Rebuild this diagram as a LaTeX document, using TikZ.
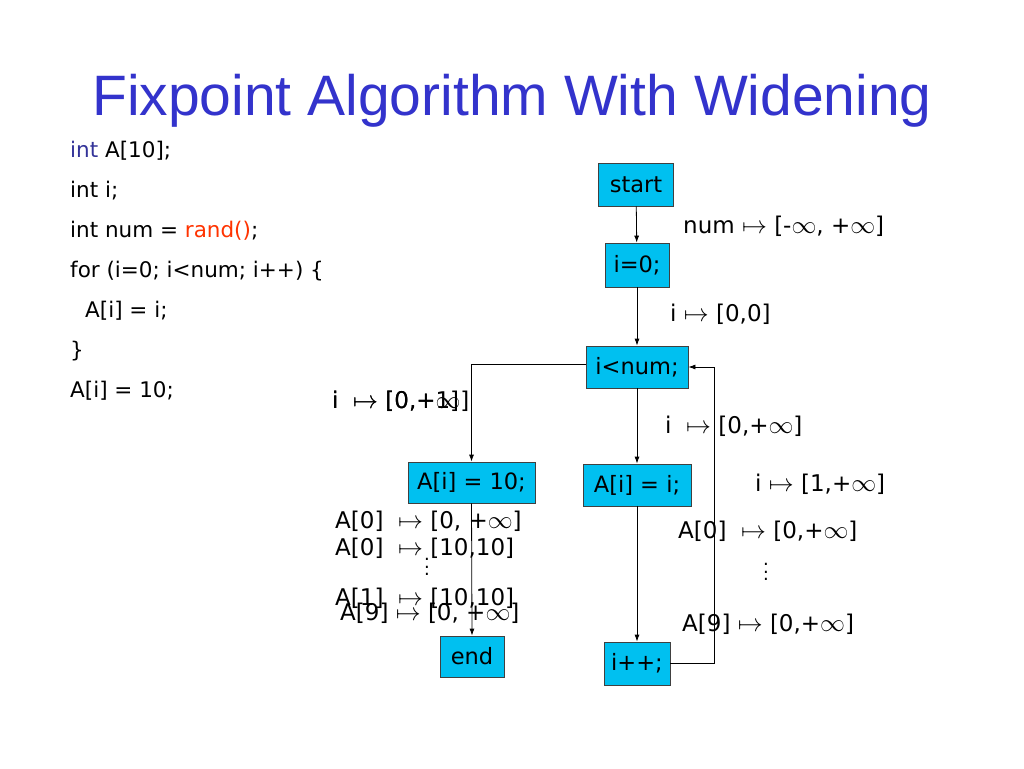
\documentclass[tikz,border=0pt]{standalone}
\usepackage{fontspec}
\setmainfont{Liberation Sans}
\newfontfamily\lblfont{DejaVu Sans}
\usetikzlibrary{arrows.meta}
\definecolor{boxcyan}{RGB}{0,192,240}
\definecolor{titleblue}{RGB}{51,51,204}
\definecolor{kwblue}{RGB}{51,51,153}
\definecolor{fnred}{RGB}{255,51,0}
\tikzset{
  blk/.style={draw=black!75, line width=0.8pt, fill=boxcyan, inner sep=0pt, font=\lblfont\fontsize{22.5}{24}\selectfont},
  lbl/.style={inner sep=0pt, anchor=west, font=\lblfont\fontsize{23}{25}\selectfont},
  dots/.style={inner sep=0pt, align=center, font=\lblfont\fontsize{18}{7.5}\selectfont},
  code/.style={inner sep=0pt, anchor=base west, font=\lblfont\fontsize{21.5}{24}\selectfont},
  flow/.style={line width=0.8pt, -{Latex[length=7pt,width=5pt]}},
  plain/.style={line width=0.8pt}
}
\begin{document}
\begin{tikzpicture}[x=1pt,y=-1pt]
\useasboundingbox (0,0) rectangle (1024,768);
\fill[white] (0,0) rectangle (1024,768);
% title
\node[inner sep=0pt, anchor=base, text=titleblue, font=\fontsize{57}{62}\selectfont] (title) at (512,115) {Fixpoint Algorithm With Widening};
% code
\node[code] (c1) at (70,157) {\textcolor{kwblue}{int} A[10];};
\node[code] (c2) at (70,197) {int i;};
\node[code] (c3) at (70,237) {int num = \textcolor{fnred}{rand()};};
\node[code] (c4) at (70,277) {for (i=0; i<num; i++) \{};
\node[code] (c5) at (85,317) {A[i] = i;};
\node[code] (c6) at (70,357) {\}};
\node[code] (c7) at (70,397) {A[i] = 10;};
% blocks
\node[blk, minimum width=75pt, minimum height=43pt] (start) at (636,184.5) {start};
\node[blk, minimum width=64pt, minimum height=44pt] (i0) at (637,265) {i=0;};
\node[blk, minimum width=102pt, minimum height=42pt] (cond) at (637,367) {i<num;};
\node[blk, minimum width=127pt, minimum height=41pt] (a10) at (471.5,482.5) {A[i] = 10;};
\node[blk, minimum width=108pt, minimum height=42pt] (ai) at (637,485) {A[i] = i;};
\node[blk, minimum width=66pt, minimum height=43pt] (inc) at (637,663.5) {i++;};
\node[blk, minimum width=64pt, minimum height=41pt] (end) at (472,656.5) {end};
% connectors
\coordinate (bk1) at (714,663.5);
\coordinate (bk2) at (714,367);
\coordinate (ex1) at (471.5,364);
\draw[flow] (start) -- (i0);
\draw[flow] (i0) -- (cond);
\draw[flow] (cond) -- (ai);
\draw[flow] (ai) -- (inc);
\draw[flow] (inc.east) -- (bk1) -- (bk2) -- (cond.east);
\draw[flow] (cond.west |- ex1) -- (ex1) -- (a10.north);
\draw[flow] (a10.south) -- (end.north);
% labels right
\node[lbl] (l1) at (683,226) {num $\mapsto$ [-$\infty$, +$\infty$]};
\node[lbl] (l2) at (670,314) {i $\mapsto$ [0,0]};
\node[lbl] (l4) at (665,426) {i \ $\mapsto$ [0,+$\infty$]};
\node[lbl] (l5) at (755,484) {i $\mapsto$ [1,+$\infty$]};
\node[lbl] (l6) at (678,531) {A[0] \ $\mapsto$ [0,+$\infty$]};
\node[dots] (d1) at (766,572) {.\\.\\.};
\node[lbl] (l7) at (682,624) {A[9] $\mapsto$ [0,+$\infty$]};
% labels left
\node[lbl] (l3a) at (332,401) {i \ $\mapsto$ [0,+$\infty$]};
\node[lbl] (l3b) at (332,401) {i \ $\mapsto$ [0,+1]};
\node[lbl] (l8) at (335,521) {A[0] \ $\mapsto$ [0, +$\infty$]};
\node[lbl] (l9) at (335,548) {A[0] \ $\mapsto$ [10,10]};
\node[dots] (d2) at (427,567) {.\\.\\.};
\node[lbl] (l10) at (335,598) {A[1] \ $\mapsto$ [10,10]};
\node[lbl] (l11) at (340,613) {A[9] $\mapsto$ [0, +$\infty$]};
\end{tikzpicture}
\end{document}
